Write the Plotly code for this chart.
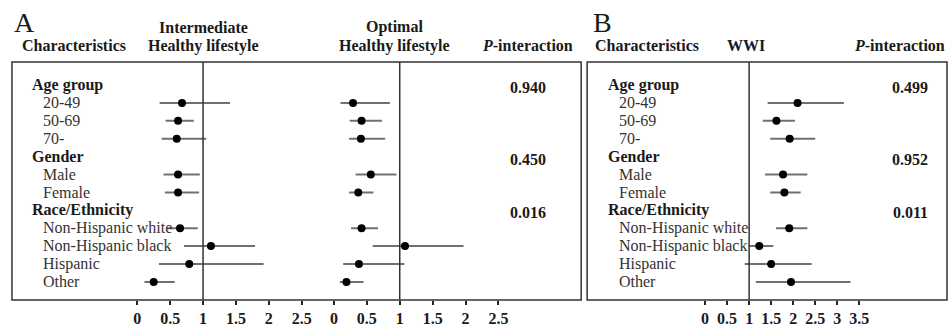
import plotly.graph_objects as go

W, H = 951, 332

# ---------------- data ----------------
groups = ["Age group", "Gender", "Race/Ethnicity"]
subgroups = [["20-49", "50-69", "70-"],
             ["Male", "Female"],
             ["Non-Hispanic white", "Non-Hispanic black", "Hispanic", "Other"]]
p_A = ["0.940", "0.450", "0.016"]
p_B = ["0.499", "0.952", "0.011"]

inter_est = [0.68, 0.62, 0.60, 0.62, 0.62, 0.65, 1.12, 0.79, 0.25]
inter_lo = [0.34, 0.43, 0.37, 0.40, 0.42, 0.45, 0.71, 0.33, 0.11]
inter_hi = [1.41, 0.86, 1.05, 0.95, 0.94, 0.92, 1.79, 1.92, 0.57]

opt_est = [0.29, 0.42, 0.41, 0.56, 0.37, 0.42, 1.08, 0.38, 0.19]
opt_lo = [0.10, 0.24, 0.23, 0.33, 0.23, 0.26, 0.59, 0.14, 0.09]
opt_hi = [0.85, 0.73, 0.78, 0.95, 0.60, 0.67, 1.97, 1.07, 0.45]

wwi_est = [2.10, 1.62, 1.92, 1.77, 1.80, 1.91, 1.23, 1.50, 1.95]
wwi_lo = [1.42, 1.31, 1.48, 1.36, 1.48, 1.61, 0.99, 0.90, 1.15]
wwi_hi = [3.15, 2.04, 2.50, 2.32, 2.17, 2.32, 1.55, 2.42, 3.30]

tickvals_A = [0, 0.5, 1, 1.5, 2, 2.5]
tickvals_B = [0, 0.5, 1, 1.5, 2, 2.5, 3, 3.5]

# ---------------- layout helpers ----------------
FONT = "Liberation Serif, Times New Roman, serif"
TXT = "#1a1a1a"
FS = 16


def px(x):
    return x / W


def py(y):
    return 1 - y / H


# row indices
header_rows, sub_rows, sub_labels = [], [], []
r = 0
for g, subs in zip(groups, subgroups):
    header_rows.append(r)
    r += 1
    for s in subs:
        sub_rows.append(r)
        sub_labels.append(s)
        r += 1

ROW0, STEP = 85.0, 17.9
BOX_TOP, BOX_BOT = 62, 300

fig = go.Figure()


def forest(est, lo, hi, xa):
    fig.add_trace(go.Scatter(
        x=est, y=sub_rows, xaxis=xa, yaxis="y", mode="markers",
        marker=dict(color="black", size=8),
        error_x=dict(type="data", symmetric=False,
                     array=[h - e for h, e in zip(hi, est)],
                     arrayminus=[e - l for e, l in zip(est, lo)],
                     width=0, thickness=2, color="#707070"),
        showlegend=False, hoverinfo="skip"))


forest(inter_est, inter_lo, inter_hi, "x")
forest(opt_est, opt_lo, opt_hi, "x2")
forest(wwi_est, wwi_lo, wwi_hi, "x3")

xcommon = dict(showgrid=False, zeroline=False, showline=False, ticks="outside",
               ticklen=4, tickwidth=1.5, tickcolor="#222", anchor="y",
               tickfont=dict(family=FONT, size=FS, color=TXT, weight="bold"),
               fixedrange=True)

fig.update_layout(
    width=W, height=H, margin=dict(l=0, r=0, t=0, b=0),
    paper_bgcolor="white", plot_bgcolor="rgba(0,0,0,0)",
    xaxis=dict(domain=[px(110), px(310)],
               range=[(110 - 137.7) / 66, (310 - 137.7) / 66],
               tickvals=tickvals_A, **xcommon),
    xaxis2=dict(domain=[px(320), px(520)],
                range=[(320 - 335) / 66, (520 - 335) / 66],
                tickvals=tickvals_A, **xcommon),
    xaxis3=dict(domain=[px(690), px(880)],
                range=[(690 - 707.3) / 44.2, (880 - 707.3) / 44.2],
                tickvals=tickvals_B, **xcommon),
    yaxis=dict(domain=[py(BOX_BOT), 1],
               range=[(BOX_BOT - ROW0) / STEP, (0 - ROW0) / STEP],
               visible=False, fixedrange=True),
)

shapes = []
# panel boxes
shapes.append(dict(type="rect", xref="paper", yref="paper",
                   x0=px(12), x1=px(583), y0=py(BOX_BOT), y1=py(BOX_TOP),
                   line=dict(color="#333", width=1.5)))
shapes.append(dict(type="rect", xref="paper", yref="paper",
                   x0=px(589), x1=px(950), y0=py(BOX_BOT), y1=py(BOX_TOP),
                   line=dict(color="#333", width=1.5)))
# reference lines at 1
for xa in ["x", "x2", "x3"]:
    shapes.append(dict(type="line", xref=xa, yref="paper", x0=1, x1=1,
                       y0=py(BOX_BOT), y1=py(BOX_TOP),
                       line=dict(color="#333", width=1.5)))
fig.update_layout(shapes=shapes)

ann = []


def text(x, y, s, size=FS, bold=False, anchor="left"):
    ann.append(dict(x=px(x), y=py(y), xref="paper", yref="paper", text=s,
                    showarrow=False, xanchor=anchor, yanchor="middle",
                    font=dict(family=FONT, size=size, color=TXT,
                              weight="bold" if bold else "normal")))


# titles
text(12, 22, "A", size=28)
text(593, 22, "B", size=28)
text(20, 46, "Characteristics", bold=True)
text(204, 27, "Intermediate", bold=True, anchor="center")
text(204, 46, "Healthy lifestyle", bold=True, anchor="center")
text(396, 27, "Optimal", bold=True, anchor="center")
text(396, 46, "Healthy lifestyle", bold=True, anchor="center")
text(529, 46, "<i>P</i>-interaction", bold=True, anchor="center")
text(595, 46, "Characteristics", bold=True)
text(748, 46, "WWI", bold=True, anchor="center")
text(950, 46, "<i>P</i>-interaction", bold=True, anchor="right")

# row labels
for panel_x in (30, 608):
    for g, hr in zip(groups, header_rows):
        ann.append(dict(x=px(panel_x), y=hr, xref="paper", yref="y", text=g,
                        showarrow=False, xanchor="left", yanchor="middle",
                        font=dict(family=FONT, size=FS, color=TXT, weight="bold")))
    for s, sr in zip(sub_labels, sub_rows):
        ann.append(dict(x=px(panel_x + 11), y=sr, xref="paper", yref="y", text=s,
                        showarrow=False, xanchor="left", yanchor="middle",
                        font=dict(family=FONT, size=FS, color="#333")))

# p-interaction values
for pv, hr in zip(p_A, header_rows):
    ann.append(dict(x=px(530), y=hr + 0.15, xref="paper", yref="y", text=pv,
                    showarrow=False, xanchor="center", yanchor="middle",
                    font=dict(family=FONT, size=FS, color=TXT, weight="bold")))
for pv, hr in zip(p_B, header_rows):
    ann.append(dict(x=px(913), y=hr + 0.15, xref="paper", yref="y", text=pv,
                    showarrow=False, xanchor="center", yanchor="middle",
                    font=dict(family=FONT, size=FS, color=TXT, weight="bold")))

fig.update_layout(annotations=ann)

fig.write_html("out.html",
               config={"displayModeBar": False},
               post_script="document.body.style.margin='0';"
                           "document.body.style.overflow='hidden';")
